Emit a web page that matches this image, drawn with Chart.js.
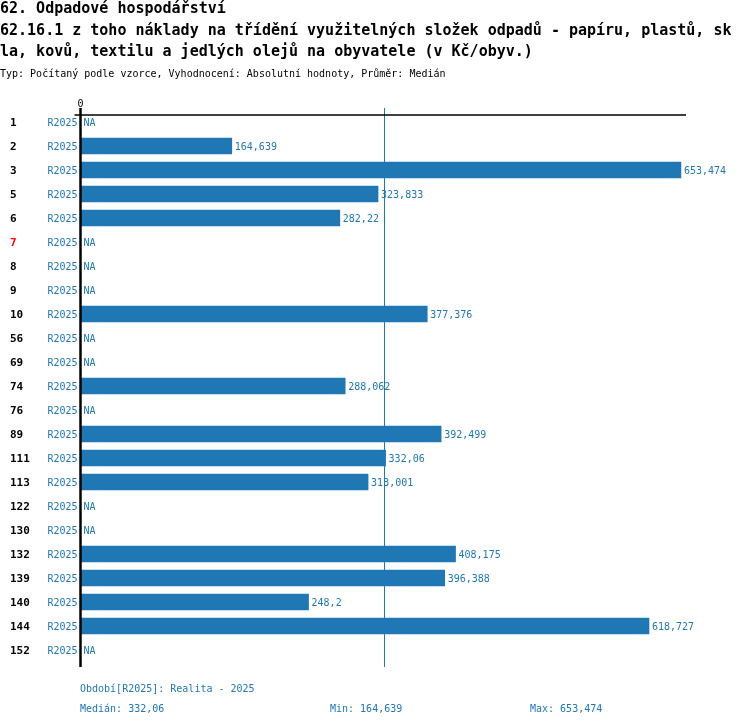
<!DOCTYPE html>
<html>
<head>
<meta charset="utf-8">
<script src="https://cdn.jsdelivr.net/npm/chart.js@4.4.1/dist/chart.umd.min.js"></script>
<style>
  body { margin: 0; background: #fff; }
  #wrap { position: relative; width: 750px; height: 726px; overflow: hidden; }
  #chart { position: absolute; left: 0; top: 0; }
  .t { position: absolute; left: 0; white-space: pre; font-family: "DejaVu Sans Mono", monospace; }
  .big { font-size: 15px; line-height: 15px; color: #000; font-weight: bold; }
  .small { font-size: 10px; line-height: 10px; }
  .blue { color: #1f77b4; }
</style>
</head>
<body>
<div id="wrap">
  <canvas id="chart" width="750" height="726"></canvas>
  <div class="t big" style="top:1px">62. Odpadové hospodářství</div>
  <div class="t big" style="top:22.5px">62.16.1 z toho náklady na třídění využitelných složek odpadů - papíru, plastů, sk</div>
  <div class="t big" style="top:44px">la, kovů, textilu a jedlých olejů na obyvatele (v Kč/obyv.)</div>
  <div class="t small" style="top:68.5px">Typ: Počítaný podle vzorce, Vyhodnocení: Absolutní hodnoty, Průměr: Medián</div>
  <div class="t small blue" style="top:683.5px; left:80px">Období[R2025]: Realita - 2025</div>
  <div class="t small blue" style="top:703.5px; left:80px">Medián: 332,06</div>
  <div class="t small blue" style="top:703.5px; left:330px">Min: 164,639</div>
  <div class="t small blue" style="top:703.5px; left:530px">Max: 653,474</div>
</div>
<script>
const categories = ['1', '2', '3', '5', '6', '7', '8', '9', '10', '56', '69', '74', '76', '89', '111', '113', '122', '130', '132', '139', '140', '144', '152'];
const periods = ['R2025', 'R2025', 'R2025', 'R2025', 'R2025', 'R2025', 'R2025', 'R2025', 'R2025', 'R2025', 'R2025', 'R2025', 'R2025', 'R2025', 'R2025', 'R2025', 'R2025', 'R2025', 'R2025', 'R2025', 'R2025', 'R2025', 'R2025'];
const values = [null, 164.639, 653.474, 323.833, 282.22, null, null, null, 377.376, null, null, 288.062, null, 392.499, 332.06, 313.001, null, null, 408.175, 396.388, 248.2, 618.727, null];
const highlighted = ['7'];
const median = 332.06;
const xMax = 659;

const blue = '#1f77b4';
const mono = '"DejaVu Sans Mono", monospace';

const fmt = v => String(v).replace('.', ',');

// labels, axis and median line drawn on top of the bars
const decorations = {
    id: 'decorations',
    afterDatasetsDraw(chart) {
        const c = chart.ctx;
        const area = chart.chartArea;
        const xs = chart.scales.x;
        const ys = chart.scales.y;
        const x0 = xs.getPixelForValue(0);
        c.save();

        // median line
        const xm = Math.floor(xs.getPixelForValue(median)) - 0.5;
        c.strokeStyle = blue;
        c.lineWidth = 1;
        c.beginPath();
        c.moveTo(xm, area.top - 2);
        c.lineTo(xm, area.bottom + 5);
        c.stroke();

        // top line
        c.strokeStyle = '#000';
        c.lineWidth = 1.5;
        c.beginPath();
        c.moveTo(x0 - 6, area.top + 5);
        c.lineTo(area.right, area.top + 5);
        c.stroke();

        // zero axis
        c.lineWidth = 2.5;
        c.beginPath();
        c.moveTo(x0, area.top - 2);
        c.lineTo(x0, area.bottom + 5);
        c.stroke();

        c.fillStyle = '#000';
        c.font = '10px ' + mono;
        c.textAlign = 'center';
        c.textBaseline = 'alphabetic';
        c.fillText('0', x0, area.top - 3);

        categories.forEach((cat, i) => {
            const y = ys.getPixelForValue(i);
            c.textBaseline = 'middle';

            c.font = 'bold 11px ' + mono;
            c.textAlign = 'left';
            c.fillStyle = highlighted.includes(cat) ? '#ff0000' : '#000';
            c.fillText(cat, 10, y + 1);

            c.font = '10px ' + mono;
            c.fillStyle = blue;
            c.textAlign = 'right';
            c.fillText(periods[i], x0 - 3, y + 1);

            c.textAlign = 'left';
            const v = values[i];
            if (v === null) {
                c.fillText('NA', x0 + 3, y + 1);
            } else {
                c.fillText(fmt(v), xs.getPixelForValue(v) + 3, y + 1);
            }
        });
        c.restore();
    }
};

const ctx = document.getElementById('chart').getContext('2d');
const chart = new Chart(ctx, {
    type: 'bar',
    data: {
        labels: categories,
        datasets: [{
            data: values,
            backgroundColor: blue,
            borderWidth: 0,
            barThickness: 16
        }]
    },
    options: {
        indexAxis: 'y',
        responsive: false,
        animation: false,
        layout: {
            padding: { left: 80.5, right: 64, top: 110, bottom: 64 }
        },
        scales: {
            x: { display: false, min: 0, max: xMax },
            y: { display: false }
        },
        plugins: {
            legend: { display: false },
            tooltip: { enabled: false }
        }
    },
    plugins: [decorations]
});
</script>
</body>
</html>
